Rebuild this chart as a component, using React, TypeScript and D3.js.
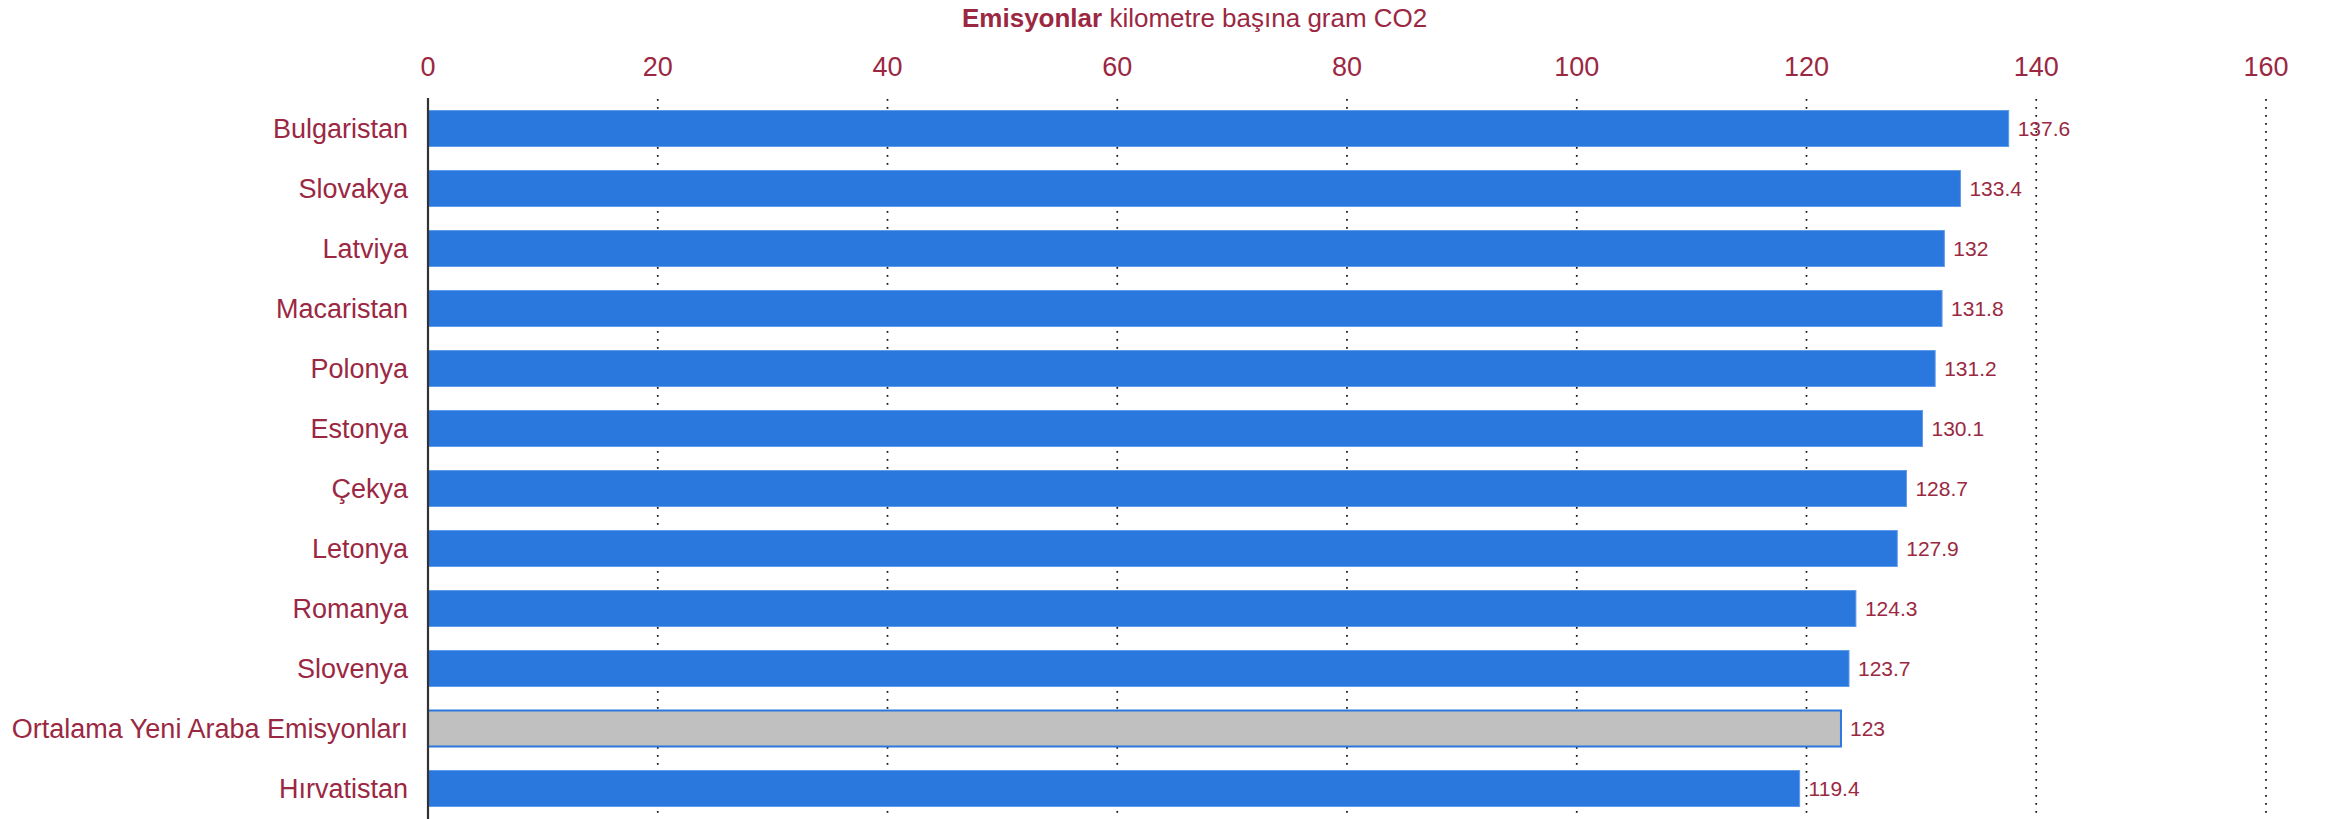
import React from "react";
import * as d3 from "d3";

const categories = [
  "Bulgaristan",
  "Slovakya",
  "Latviya",
  "Macaristan",
  "Polonya",
  "Estonya",
  "Çekya",
  "Letonya",
  "Romanya",
  "Slovenya",
  "Ortalama Yeni Araba Emisyonları",
  "Hırvatistan",
];
const values = [137.6, 133.4, 132, 131.8, 131.2, 130.1, 128.7, 127.9, 124.3, 123.7, 123, 119.4];
const highlighted = ["Ortalama Yeni Araba Emisyonları"];
const xTicks = [0, 20, 40, 60, 80, 100, 120, 140, 160];
const titleBold = "Emisyonlar";
const titleRest = " kilometre başına gram CO2";

const W = 2339;
const H = 819;
const TEXT = "#9b2842";
const BLUE = "#2a77dd";
const FONT = "'Liberation Sans', Arial, Helvetica, sans-serif";

export default function App() {
  const x = d3.scaleLinear().domain([0, 160]).range([428, 2266]);
  const y = d3
    .scaleBand<string>()
    .domain(categories)
    .range([98.5, 818.5])
    .paddingInner(0.4)
    .paddingOuter(0.2);

  return (
    <svg
      width={W}
      height={H}
      style={{ position: "absolute", left: 0, top: 0, display: "block", background: "#fff" }}
      fontFamily={FONT}
    >
      <text x={962} y={27} fontSize={26} fill={TEXT}>
        <tspan fontWeight="bold">{titleBold}</tspan>
        <tspan>{titleRest}</tspan>
      </text>

      {xTicks.map((t) => (
        <text key={"t" + t} x={x(t)} y={76} fontSize={27} fill={TEXT} textAnchor="middle">
          {t}
        </text>
      ))}

      {xTicks
        .filter((t) => t > 0)
        .map((t) => (
          <line
            key={"g" + t}
            x1={x(t)}
            x2={x(t)}
            y1={99}
            y2={H}
            stroke="#111"
            strokeWidth={1.7}
            strokeDasharray="1.7,6.3"
          />
        ))}

      {categories.map((c, i) => {
        const hl = highlighted.includes(c);
        const y0 = y(c)!;
        const bw = y.bandwidth();
        return (
          <g key={c}>
            <rect
              x={x(0)}
              y={y0}
              width={x(values[i]) - x(0)}
              height={bw}
              fill={hl ? "#c0c0c0" : BLUE}
              stroke={hl ? BLUE : "#5e9bea"}
              strokeWidth={hl ? 2 : 1}
            />
            <text
              x={x(values[i]) + 9}
              y={y0 + bw / 2}
              dy="0.35em"
              fontSize={21}
              fill={TEXT}
            >
              {values[i]}
            </text>
            <text
              x={408}
              y={y0 + bw / 2}
              dy="0.35em"
              fontSize={27}
              fill={TEXT}
              textAnchor="end"
            >
              {c}
            </text>
          </g>
        );
      })}

      <line x1={x(0)} x2={x(0)} y1={98} y2={H} stroke="#333" strokeWidth={2.2} />
    </svg>
  );
}
